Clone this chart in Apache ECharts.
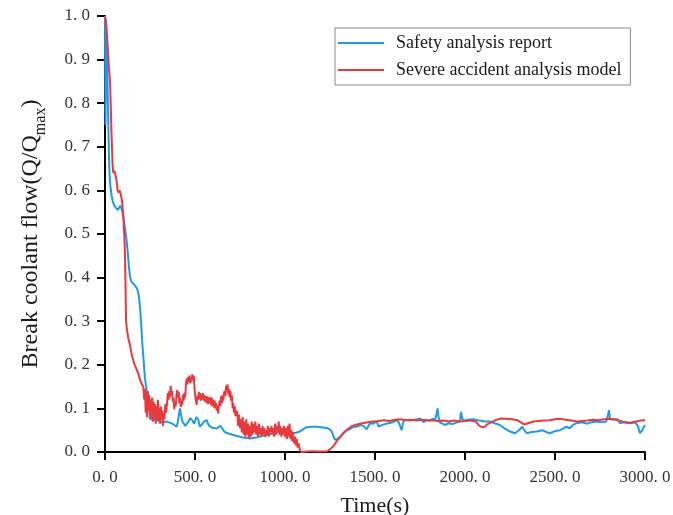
<!DOCTYPE html>
<html>
<head>
<meta charset="utf-8">
<script src="https://cdn.jsdelivr.net/npm/echarts@6/dist/echarts.min.js"></script>
<style>
html,body{margin:0;padding:0;background:#fff;}
#chart{width:673px;height:515px;}
</style>
</head>
<body>
<div id="chart"></div>
<script>
var seriesNames = ['Safety analysis report', 'Severe accident analysis model'];
var xTicks = [0, 500, 1000, 1500, 2000, 2500, 3000];
var yTicks = [0, 0.1, 0.2, 0.3, 0.4, 0.5, 0.6, 0.7, 0.8, 0.9, 1.0];

var blueT = [0,3,6,10,14,18,22,26,30,36,43,52,61,70,78,85,92,98,105,112,120,128,134,139,145,151,157,165,172,178,185,190,195,200,204,208,213,218,222,226,232,238,244,250,254,259,263,267,272,278,285,292,300,310,320,330,343,355,370,385,398,405,412,417,422,430,438,446,455,465,472,481,487,494,500,507,513,518,523,528,535,542,550,558,565,572,580,590,600,610,620,630,640,648,655,662,675,690,713,740,770,806,840,870,898,925,954,990,1028,1060,1083,1100,1120,1150,1176,1200,1231,1250,1262,1270,1278,1290,1305,1324,1343,1361,1380,1400,1420,1435,1454,1472,1490,1509,1520,1528,1540,1555,1575,1600,1620,1632,1640,1648,1655,1665,1690,1720,1750,1770,1785,1800,1820,1835,1843,1848,1853,1860,1875,1889,1910,1930,1955,1972,1978,1983,1990,2010,2046,2080,2110,2139,2165,2194,2220,2250,2278,2300,2318,2330,2343,2370,2398,2430,2450,2472,2500,2528,2550,2565,2580,2600,2620,2650,2680,2700,2730,2760,2785,2794,2800,2806,2815,2830,2845,2861,2880,2900,2920,2945,2960,2972,2985,2994,3000];
var blueV = [1.0,0.75,0.98,0.92,0.85,0.76,0.68,0.63,0.61,0.59,0.575,0.565,0.56,0.555,0.56,0.565,0.558,0.548,0.53,0.51,0.486,0.45,0.42,0.402,0.393,0.388,0.386,0.383,0.38,0.375,0.365,0.35,0.33,0.30,0.272,0.245,0.219,0.19,0.17,0.158,0.14,0.125,0.11,0.104,0.08,0.073,0.09,0.07,0.085,0.075,0.07,0.078,0.072,0.07,0.068,0.072,0.07,0.068,0.066,0.062,0.058,0.07,0.09,0.1,0.085,0.07,0.066,0.06,0.065,0.07,0.078,0.081,0.072,0.065,0.07,0.08,0.083,0.075,0.065,0.058,0.062,0.065,0.07,0.074,0.073,0.065,0.06,0.056,0.055,0.054,0.054,0.058,0.06,0.062,0.052,0.047,0.044,0.042,0.039,0.036,0.033,0.031,0.033,0.036,0.039,0.042,0.047,0.045,0.043,0.044,0.047,0.052,0.057,0.058,0.058,0.057,0.055,0.052,0.045,0.035,0.028,0.03,0.034,0.043,0.05,0.052,0.058,0.058,0.062,0.06,0.052,0.066,0.065,0.07,0.058,0.054,0.062,0.064,0.066,0.068,0.073,0.068,0.072,0.05,0.066,0.074,0.072,0.074,0.077,0.068,0.074,0.072,0.076,0.075,0.09,0.1,0.08,0.068,0.065,0.062,0.066,0.064,0.068,0.07,0.092,0.08,0.072,0.074,0.075,0.072,0.07,0.07,0.066,0.062,0.054,0.047,0.043,0.05,0.058,0.05,0.043,0.046,0.047,0.05,0.046,0.043,0.048,0.05,0.055,0.058,0.054,0.062,0.066,0.068,0.065,0.068,0.07,0.068,0.07,0.085,0.096,0.075,0.072,0.074,0.075,0.066,0.068,0.067,0.066,0.068,0.06,0.043,0.05,0.058,0.062];

var redT = [0,5,15,22,28,33,37,42,46,52,58,65,70,76,82,88,95,102,107,111,114,117,122,130,139,148,157,165,175,185,195,205,213,218,222,226,230,234,238,242,246,250,254,258,262,266,270,274,278,282,286,290,294,298,302,306,310,314,318,322,326,330,335,340,345,349,353,357,361,365,369,373,377,381,385,389,393,397,401,405,409,413,417,421,425,429,433,437,441,445,449,453,457,461,465,469,473,477,481,485,489,493,497,501,505,509,513,517,521,525,529,533,537,541,545,549,553,557,561,565,569,573,577,581,585,589,593,597,601,605,609,613,617,621,625,629,633,637,641,645,649,653,657,661,665,669,673,677,681,685,689,693,697,701,705,709,713,717,721,725,729,735,740,745,750,755,760,765,770,775,780,785,790,795,800,805,810,815,820,825,830,835,840,845,850,855,860,865,870,875,880,885,890,895,900,905,910,915,920,925,930,935,940,945,950,955,960,965,970,975,980,985,990,995,1000,1005,1010,1015,1020,1025,1030,1035,1040,1045,1050,1055,1060,1065,1070,1075,1082,1090,1100,1150,1200,1235,1250,1270,1290,1310,1330,1350,1375,1400,1430,1460,1490,1520,1550,1580,1610,1640,1670,1700,1730,1760,1790,1820,1850,1880,1910,1940,1970,2000,2030,2060,2080,2095,2110,2125,2140,2170,2200,2230,2260,2290,2310,2330,2350,2380,2410,2440,2470,2500,2530,2560,2590,2620,2650,2680,2710,2740,2770,2800,2830,2860,2890,2920,2950,2975,3000];
var redV = [1.0,0.99,0.93,0.88,0.85,0.78,0.72,0.66,0.64,0.645,0.635,0.62,0.60,0.595,0.6,0.59,0.575,0.54,0.5,0.45,0.38,0.30,0.28,0.26,0.245,0.225,0.21,0.2,0.19,0.18,0.165,0.155,0.15,0.12,0.145,0.09,0.135,0.08,0.14,0.095,0.13,0.075,0.12,0.09,0.125,0.07,0.115,0.08,0.11,0.065,0.105,0.075,0.12,0.07,0.1,0.065,0.105,0.075,0.095,0.06,0.09,0.075,0.11,0.09,0.115,0.135,0.12,0.14,0.125,0.152,0.13,0.14,0.115,0.125,0.098,0.115,0.105,0.13,0.142,0.125,0.138,0.112,0.125,0.103,0.118,0.108,0.132,0.118,0.135,0.125,0.15,0.168,0.155,0.172,0.16,0.175,0.158,0.172,0.162,0.178,0.165,0.175,0.15,0.13,0.118,0.108,0.128,0.12,0.138,0.122,0.135,0.118,0.132,0.12,0.135,0.118,0.13,0.115,0.128,0.112,0.127,0.11,0.125,0.112,0.126,0.108,0.124,0.105,0.12,0.102,0.118,0.1,0.112,0.095,0.105,0.088,0.108,0.118,0.105,0.128,0.112,0.13,0.118,0.135,0.14,0.128,0.152,0.14,0.155,0.132,0.145,0.125,0.14,0.118,0.13,0.1,0.112,0.09,0.105,0.082,0.095,0.09,0.06,0.085,0.055,0.075,0.045,0.08,0.04,0.07,0.035,0.075,0.04,0.065,0.03,0.06,0.035,0.07,0.04,0.065,0.045,0.07,0.04,0.06,0.035,0.065,0.04,0.055,0.035,0.06,0.04,0.055,0.035,0.05,0.04,0.06,0.035,0.055,0.045,0.06,0.04,0.055,0.035,0.065,0.04,0.06,0.045,0.07,0.04,0.06,0.035,0.055,0.04,0.06,0.035,0.055,0.03,0.06,0.035,0.065,0.03,0.05,0.025,0.045,0.02,0.035,0.015,0.03,0.01,0.02,0.005,0.0,0.0,0.002,0.001,0.002,0.006,0.014,0.026,0.036,0.046,0.053,0.06,0.063,0.066,0.068,0.07,0.071,0.073,0.071,0.074,0.075,0.073,0.074,0.072,0.074,0.072,0.073,0.071,0.072,0.07,0.072,0.07,0.071,0.072,0.07,0.06,0.057,0.058,0.064,0.067,0.073,0.077,0.076,0.075,0.073,0.068,0.063,0.066,0.07,0.071,0.072,0.073,0.075,0.076,0.074,0.072,0.07,0.071,0.072,0.074,0.073,0.075,0.076,0.075,0.072,0.068,0.067,0.07,0.072,0.073];

function pairs(t, v) { return t.map(function (x, i) { return [x, v[i]]; }); }
function fmt(v) { return v.toFixed(1).replace('.', '. '); }

var serif = '"Liberation Serif", "DejaVu Serif", serif';
var chart = echarts.init(document.getElementById('chart'), null, { renderer: 'canvas' });
chart.setOption({
  animation: false,
  backgroundColor: '#fff',
  grid: { left: 105, right: 28, top: 16, bottom: 63, containLabel: false, outerBoundsMode: 'none' },
  legend: {
    orient: 'vertical',
    left: 335, top: 28,
    padding: [6, 9, 6, 3],
    icon: 'rect',
    itemWidth: 46, itemHeight: 2, itemGap: 9,
    borderColor: '#8a8a8a', borderWidth: 1,
    textStyle: { fontFamily: serif, fontSize: 18, color: '#1a1a1a', padding: [0, 0, 0, 7] },
    data: seriesNames
  },
  xAxis: {
    type: 'value', min: 0, max: 3000, interval: 500,
    name: 'Time(s)', nameLocation: 'middle', nameGap: 43,
    nameTextStyle: { fontFamily: serif, fontSize: 22, color: '#1a1a1a' },
    axisLine: { lineStyle: { color: '#000', width: 2 } },
    axisTick: { length: 8, lineStyle: { color: '#000', width: 2 } },
    axisLabel: { fontFamily: serif, fontSize: 17, color: '#333', margin: 17, formatter: fmt },
    splitLine: { show: false }
  },
  yAxis: {
    type: 'value', min: 0, max: 1, interval: 0.1,
    name: '{a|Break coolant flow(Q/Q}{s|max}{a|)}', nameLocation: 'middle', nameGap: 62, nameRotate: 90,
    nameTextStyle: {
      rich: {
        a: { fontFamily: serif, fontSize: 24, color: '#1a1a1a', lineHeight: 27, verticalAlign: 'bottom' },
        s: { fontFamily: serif, fontSize: 16, color: '#1a1a1a', lineHeight: 27, verticalAlign: 'bottom', padding: [0, 0, -6, 0] }
      }
    },
    axisLine: { show: true, lineStyle: { color: '#000', width: 2 } },
    axisTick: { show: true, length: 8, lineStyle: { color: '#000', width: 2 } },
    axisLabel: { fontFamily: serif, fontSize: 17, color: '#333', margin: 15, formatter: fmt },
    splitLine: { show: false }
  },
  series: [
    { name: seriesNames[0], type: 'line', data: pairs(blueT, blueV), symbol: 'none', color: '#1E9BE8', lineStyle: { width: 2, color: '#1E9BE8' } },
    { name: seriesNames[1], type: 'line', data: pairs(redT, redV), symbol: 'none', color: '#E8393D', lineStyle: { width: 2, color: '#E8393D' } }
  ]
});
</script>
</body>
</html>
